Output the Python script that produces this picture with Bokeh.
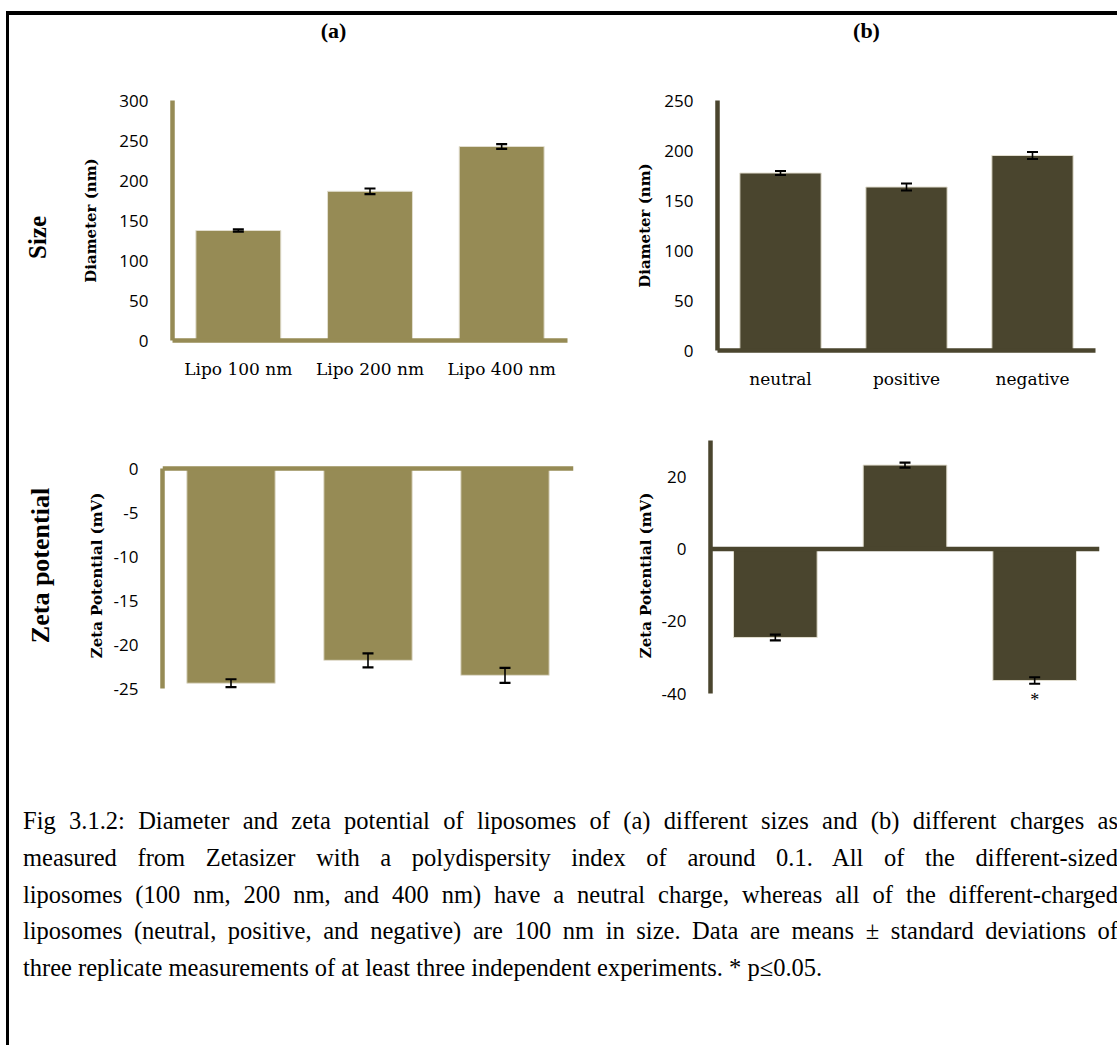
import math
from bokeh.plotting import figure
from bokeh.models import (ColumnDataSource, Whisker, Range1d, FactorRange, Span,
                          Div, TeeHead)
from bokeh.layouts import row, column
from bokeh.embed import file_html
from bokeh.resources import INLINE
from bokeh.core.properties import value

# ---------------- data ----------------
size_categories = ["Lipo 100 nm", "Lipo 200 nm", "Lipo 400 nm"]
size_diameter = [137.5, 186.5, 242.5]
size_diameter_err = [1.5, 3.5, 3.0]
size_zeta = [-24.4, -21.8, -23.5]
size_zeta_err = [0.45, 0.8, 0.85]

charge_categories = ["neutral", "positive", "negative"]
charge_diameter = [177.5, 163.5, 195.0]
charge_diameter_err = [2.0, 3.5, 3.5]
charge_zeta = [-24.5, 23.2, -36.4]
charge_zeta_err = [0.8, 0.7, 0.9]
charge_zeta_mark = ["", "", "*"]

diam_ticks_a = [0, 50, 100, 150, 200, 250, 300]
diam_ticks_b = [0, 50, 100, 150, 200, 250]
zeta_ticks_a = [0, -5, -10, -15, -20, -25]
zeta_ticks_b = [-40, -20, 0, 20]

caption_lines = [
    "Fig 3.1.2: Diameter and zeta potential of liposomes of (a) different sizes and (b) different charges as",
    "measured from Zetasizer with a polydispersity index of around 0.1. All of the different-sized",
    "liposomes (100 nm, 200 nm, and 400 nm) have a neutral charge, whereas all of the different-charged",
    "liposomes (neutral, positive, and negative) are 100 nm in size. Data are means \u00b1 standard deviations of",
    "three replicate measurements of at least three independent experiments. * p\u22640.05.",
]

OLIVE = "#968B55"
DARK = "#4A452E"
EDGE = "#E2DECF"


def canvas(x0, x1, y0, y1, bt, bb):
    """Plain drawing area whose frame coordinates equal page pixels."""
    p = figure(width=x1 - x0, height=y1 - y0,
               x_range=Range1d(x0, x1), y_range=Range1d(-(y1 - bb), -(y0 + bt)),
               output_backend="svg", toolbar_location=None,
               min_border_left=0, min_border_right=0,
               min_border_top=bt, min_border_bottom=bb,
               x_axis_location=None, y_axis_location=None)
    p.grid.visible = False
    p.outline_line_color = None
    return p


def y_range_for(v_hi, px_hi, v_lo, px_lo, f_top, f_bot):
    s = (px_lo - px_hi) / (v_hi - v_lo)
    return (v_lo - (f_bot - px_lo) / s, v_hi + (px_hi - f_top) / s)


def bar_chart(cats, vals, errs, color, box, frame, yr, bounds, ticks, ylabel,
              label_standoff, xaxis="below"):
    x0, x1, y0, y1 = box
    fl, fr, ft, fb = frame
    p = figure(x_range=FactorRange(*cats), y_range=Range1d(*yr),
               width=x1 - x0, height=y1 - y0, output_backend="svg",
               toolbar_location=None,
               min_border_left=fl - x0, min_border_right=x1 - fr,
               min_border_top=ft - y0, min_border_bottom=y1 - fb,
               x_axis_location=xaxis)
    src = ColumnDataSource(dict(cat=cats, val=vals,
                                up=[v + e for v, e in zip(vals, errs)],
                                lo=[v - e for v, e in zip(vals, errs)]))
    p.vbar(x="cat", top="val", bottom=0, width=0.645, source=src,
           fill_color=color, line_color=EDGE, line_width=1)
    w = Whisker(base="cat", upper="up", lower="lo", source=src, level="overlay",
                line_color="black", line_width=1.6,
                upper_head=TeeHead(size=11, line_color="black", line_width=2.2),
                lower_head=TeeHead(size=11, line_color="black", line_width=2.2))
    p.add_layout(w)

    p.grid.visible = False
    p.outline_line_color = None

    ya = p.yaxis[0]
    ya.ticker = ticks
    ya.bounds = bounds
    ya.major_label_overrides = {t: str(t) for t in ticks}
    ya.axis_line_color = color
    ya.axis_line_width = 4.5
    ya.major_tick_line_color = None
    ya.minor_tick_line_color = None
    ya.major_label_text_font = "Open Sans"
    ya.major_label_text_font_size = "17px"
    ya.major_label_text_color = "black"
    ya.major_label_standoff = 18
    ya.axis_label = ylabel
    ya.axis_label_text_font = "DejaVu Serif"
    ya.axis_label_text_font_style = "bold"
    ya.axis_label_text_font_size = "15px"
    ya.axis_label_text_color = "black"
    ya.axis_label_standoff = label_standoff

    if xaxis is not None:
        xa = p.xaxis[0]
        xa.axis_line_color = color
        xa.axis_line_width = 4.5
        xa.major_tick_line_color = None
        xa.minor_tick_line_color = None
        xa.major_label_text_font = "DejaVu Serif"
        xa.major_label_text_font_size = "17px"
        xa.major_label_text_color = "black"
        xa.major_label_standoff = 12
    else:
        p.add_layout(Span(location=0, dimension="width", line_color=color,
                          line_width=4.5))
    return p, src


# header with panel letters
hdr = canvas(9, 1117, 15, 80, 0, 0)
hdr.text(x=[333, 866], y=[-30, -30], text=["(a)", "(b)"],
         text_font=value("Liberation Serif"), text_font_style="bold",
         text_font_size="22px", text_align="center", text_baseline="middle",
         text_color="black")

# ---- row B: size (top border 20, bottom border 60 for every plot) ----
sideB = canvas(9, 73, 80, 410, 20, 60)
sideB.text(x=[37], y=[-237], text=["Size"], angle=math.pi / 2,
           text_font=value("Liberation Serif"), text_font_style="bold",
           text_font_size="25px", text_align="center", text_baseline="middle",
           text_color="black")

tl, _ = bar_chart(size_categories, size_diameter, size_diameter_err, OLIVE,
                  (73, 600, 80, 400), (172, 567, 100, 340), (0, 300), (0, 300),
                  diam_ticks_a, "Diameter (nm)", 16)
tr, _ = bar_chart(charge_categories, charge_diameter, charge_diameter_err, DARK,
                  (600, 1117, 80, 410), (717, 1095, 100, 350), (0, 250), (0, 250),
                  diam_ticks_b, "Diameter (nm)", 7)

# ---- row C: zeta potential (frame 440..710 for every plot) ----
sideC = canvas(9, 73, 410, 740, 30, 30)
sideC.text(x=[40], y=[-565], text=["Zeta potential"], angle=math.pi / 2,
           text_font=value("Liberation Serif"), text_font_style="bold",
           text_font_size="26px", text_align="center", text_baseline="middle",
           text_color="black")

bl, _ = bar_chart(size_categories, size_zeta, size_zeta_err, OLIVE,
                  (73, 600, 410, 740), (162, 573, 440, 710),
                  y_range_for(0, 468, -25, 688, 440, 710), (-25, 0),
                  zeta_ticks_a, "Zeta Potential (mV)", 5, xaxis=None)
br, br_src = bar_chart(charge_categories, charge_zeta, charge_zeta_err, DARK,
                       (600, 1117, 410, 740), (710, 1099, 440, 710),
                       y_range_for(30, 440, -40, 693, 440, 710), (-40, 30),
                       zeta_ticks_b, "Zeta Potential (mV)", 4, xaxis=None)
star_cats = [c for c, m in zip(charge_categories, charge_zeta_mark) if m]
star_y = [v - e - 1.6 for v, e, m in zip(charge_zeta, charge_zeta_err, charge_zeta_mark) if m]
star_txt = [m for m in charge_zeta_mark if m]
br.text(x=star_cats, y=star_y, text=star_txt, text_align="center",
        text_baseline="top", text_font=value("Liberation Serif"),
        text_font_size="18px", text_color="black")

# ---- caption ----
line_html = []
for i, ln in enumerate(caption_lines):
    last = "justify" if i < len(caption_lines) - 1 else "left"
    line_html.append(
        f'<div style="text-align:justify;text-align-last:{last};">{ln}</div>')
cap_html = ('<div style="font-family:\'Liberation Serif\';font-size:24.5px;'
            'line-height:36.75px;color:black;width:1095px;margin-left:9px;'
            'padding-top:58px;white-space:normal;">' + "".join(line_html) + '</div>')
cap = Div(text=cap_html, width=1108, height=295,
          styles={"overflow": "hidden"})

root = column(hdr, row(sideB, tl, tr, spacing=0), row(sideC, bl, br, spacing=0),
              cap, spacing=0,
              styles={"margin-left": "6px", "margin-top": "11px",
                      "border-left": "3px solid black",
                      "border-top": "4px solid black"})

open("out.html", "w").write(file_html(root, INLINE))
